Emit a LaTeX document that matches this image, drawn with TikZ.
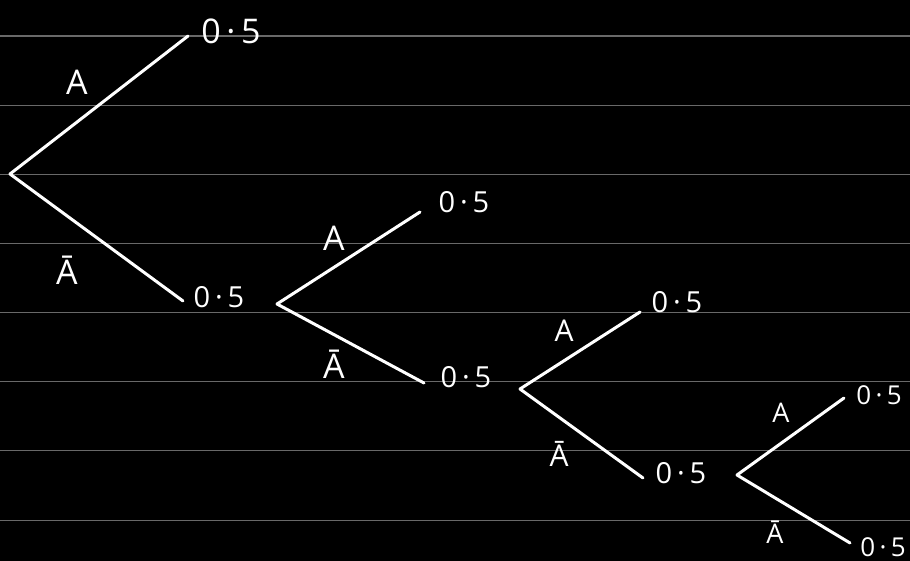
\documentclass[tikz,border=0pt]{standalone}
\usepackage{fontspec}
\setmainfont{Open Sans}
\definecolor{rulegray}{RGB}{105,105,105}
\begin{document}
\begin{tikzpicture}[x=1pt,y=-1pt,
  branch/.style={white,line width=3pt,line cap=round,line join=round},
  ruling/.style={rulegray,line width=1.1pt},
  lbl/.style={white,inner sep=0pt,font=\fontsize{34}{36}\selectfont},
  mlbl/.style={white,inner sep=0pt,font=\fontsize{30}{32}\selectfont},
  slbl/.style={white,inner sep=0pt,font=\fontsize{27}{29}\selectfont},
  prob/.style={white,inner sep=0pt,font=\fontsize{29}{31}\selectfont},
  sprob/.style={white,inner sep=0pt,font=\fontsize{26}{28}\selectfont},
  bigprob/.style={white,inner sep=0pt,font=\fontsize{34}{36}\selectfont}]
\useasboundingbox (0,0) rectangle (910,561);
\fill[black] (0,0) rectangle (910,561);
\foreach \k in {0,...,7}
  \draw[ruling] (0,{36+69.15*\k}) -- (910,{36+69.15*\k});
% tree 1
\coordinate (r1) at (10,174);
\coordinate (u1) at (188,36);
\coordinate (d1) at (183,301);
\draw[branch] (u1) -- (r1) -- (d1);
\node[lbl] (a1) at (77,82) {A};
\node[lbl] (b1) at (67,270) {Ā};
\node[bigprob] (pu1) at (231,31) {0\,·\,5};
\node[prob] (pd1) at (219,297) {0\,·\,5};
% tree 2
\coordinate (r2) at (277,304);
\coordinate (u2) at (420,212);
\coordinate (d2) at (424,383);
\draw[branch] (u2) -- (r2) -- (d2);
\node[lbl] (a2) at (334,238) {A};
\node[lbl] (b2) at (334,364) {Ā};
\node[prob] (pu2) at (464,202) {0\,·\,5};
\node[prob] (pd2) at (466,377) {0\,·\,5};
% tree 3
\coordinate (r3) at (520,389);
\coordinate (u3) at (640,312);
\coordinate (d3) at (643,478);
\draw[branch] (u3) -- (r3) -- (d3);
\node[mlbl] (a3) at (564,331) {A};
\node[mlbl] (b3) at (559,454) {Ā};
\node[prob] (pu3) at (677,302) {0\,·\,5};
\node[prob] (pd3) at (681,473) {0\,·\,5};
% tree 4
\coordinate (r4) at (737,475);
\coordinate (u4) at (844,398);
\coordinate (d4) at (850,543);
\draw[branch] (u4) -- (r4) -- (d4);
\node[slbl] (a4) at (781,413) {A};
\node[slbl] (b4) at (775,532) {Ā};
\node[sprob] (pu4) at (879,395) {0\,·\,5};
\node[sprob] (pd4) at (883,547) {0\,·\,5};
\end{tikzpicture}
\end{document}
